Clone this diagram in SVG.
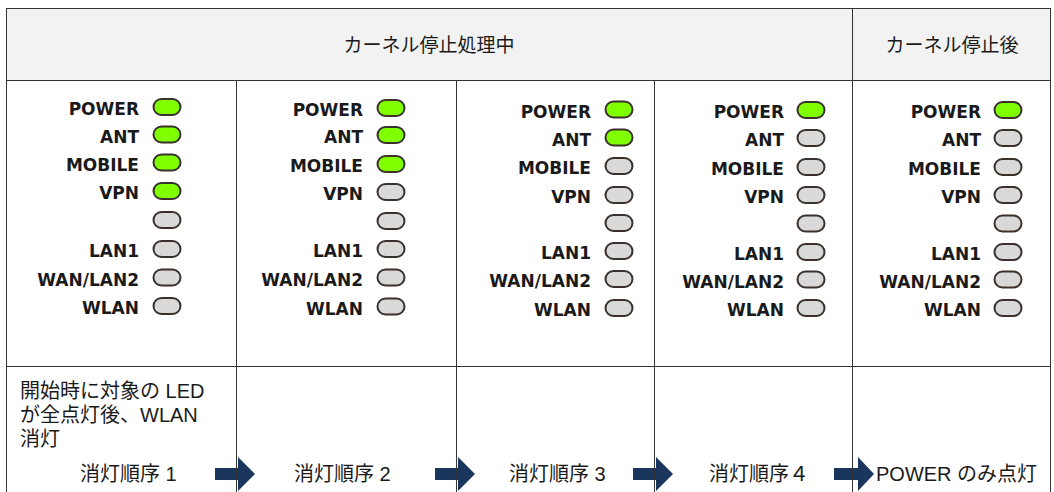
<svg xmlns="http://www.w3.org/2000/svg" width="1054" height="492" viewBox="0 0 1054 492">
<style>
.lbl{font-family:"DejaVu Sans",Verdana,sans-serif;font-weight:bold;font-size:17px;fill:#1a1a1a;text-anchor:end}
.on{fill:#80ff00;stroke:#3a302c;stroke-width:2}
.off{fill:#d9d9d9;stroke:#3a302c;stroke-width:2}
.jp{font-family:"Liberation Sans","Noto Sans CJK JP",sans-serif;font-size:20px;fill:#1a1a1a}
.hd{font-family:"Noto Sans CJK JP","Liberation Sans",sans-serif;font-size:19px;fill:#1a1a1a;text-anchor:middle}
.ln{stroke:#333;stroke-width:1;fill:none}
.arrow{fill:#1b365d}
</style>
<defs>
<rect id="led" x="-13.5" y="-8" width="27" height="16" rx="8" ry="8"/>
</defs>
<rect x="6" y="8" width="1045" height="72" fill="#f2f2f2"/>
<rect x="6" y="80" width="1045" height="412" fill="#ffffff"/>
<g id="header">
<text class="hd" x="429" y="52">カーネル停止処理中</text>
<text class="hd" x="952" y="52">カーネル停止後</text>
</g>
<g id="connectors">
<polygon class="arrow" points="215,468 238,468 238,457 255,474 238,491 238,480 215,480"/>
<polygon class="arrow" points="435,468 458,468 458,457 475,474 458,491 458,480 435,480"/>
<polygon class="arrow" points="633,468 656,468 656,457 673,474 656,491 656,480 633,480"/>
<polygon class="arrow" points="834,468 858,468 858,457 874,474 858,491 858,480 834,480"/>
</g>
<g id="grid">
<line class="ln" x1="6" y1="8.5" x2="1051" y2="8.5" stroke-width="1.5" stroke="#555"/>
<line class="ln" x1="6" y1="80.5" x2="1051" y2="80.5" stroke-width="1.5" stroke="#555"/>
<line class="ln" x1="6" y1="366.5" x2="1051" y2="366.5"/>
<line class="ln" x1="6.5" y1="8" x2="6.5" y2="492"/>
<line class="ln" x1="1050.5" y1="8" x2="1050.5" y2="492"/>
<line class="ln" x1="236.5" y1="80" x2="236.5" y2="492"/>
<line class="ln" x1="456.5" y1="80" x2="456.5" y2="492"/>
<line class="ln" x1="654.5" y1="80" x2="654.5" y2="492"/>
<line class="ln" x1="852.5" y1="8" x2="852.5" y2="492"/>
</g>
<g id="step1">
<text class="lbl" x="139" y="115">POWER</text><use href="#led" class="on" x="167" y="107"/>
<text class="lbl" x="139" y="142.5">ANT</text><use href="#led" class="on" x="167" y="134.5"/>
<text class="lbl" x="139" y="170.5">MOBILE</text><use href="#led" class="on" x="167" y="162.5"/>
<text class="lbl" x="139" y="199">VPN</text><use href="#led" class="on" x="167" y="191"/>
<use href="#led" class="off" x="167" y="220"/>
<text class="lbl" x="139" y="257">LAN1</text><use href="#led" class="off" x="167" y="249"/>
<text class="lbl" x="139" y="285.5">WAN/LAN2</text><use href="#led" class="off" x="167" y="277.5"/>
<text class="lbl" x="139" y="314">WLAN</text><use href="#led" class="off" x="167" y="306"/>
<text class="jp" x="20" y="398">開始時に対象の LED</text>
<text class="jp" x="20" y="422">が全点灯後、WLAN</text>
<text class="jp" x="20" y="446">消灯</text>
<text class="jp" x="80" y="481">消灯順序 1</text>
</g>
<g id="step2">
<text class="lbl" x="363" y="116">POWER</text><use href="#led" class="on" x="391" y="108"/>
<text class="lbl" x="363" y="143">ANT</text><use href="#led" class="on" x="391" y="135"/>
<text class="lbl" x="363" y="172">MOBILE</text><use href="#led" class="on" x="391" y="164"/>
<text class="lbl" x="363" y="200">VPN</text><use href="#led" class="off" x="391" y="192"/>
<use href="#led" class="off" x="391" y="221"/>
<text class="lbl" x="363" y="257">LAN1</text><use href="#led" class="off" x="391" y="249"/>
<text class="lbl" x="363" y="285.5">WAN/LAN2</text><use href="#led" class="off" x="391" y="277.5"/>
<text class="lbl" x="363" y="314.5">WLAN</text><use href="#led" class="off" x="391" y="306.5"/>
<text class="jp" x="294" y="481">消灯順序 2</text>
</g>
<g id="step3">
<text class="lbl" x="591" y="117.5">POWER</text><use href="#led" class="on" x="619" y="109.5"/>
<text class="lbl" x="591" y="145.5">ANT</text><use href="#led" class="on" x="619" y="137.5"/>
<text class="lbl" x="591" y="174">MOBILE</text><use href="#led" class="off" x="619" y="166"/>
<text class="lbl" x="591" y="203">VPN</text><use href="#led" class="off" x="619" y="195"/>
<use href="#led" class="off" x="619" y="223"/>
<text class="lbl" x="591" y="259">LAN1</text><use href="#led" class="off" x="619" y="251"/>
<text class="lbl" x="591" y="287">WAN/LAN2</text><use href="#led" class="off" x="619" y="279"/>
<text class="lbl" x="591" y="316">WLAN</text><use href="#led" class="off" x="619" y="308"/>
<text class="jp" x="509" y="481">消灯順序 3</text>
</g>
<g id="step4">
<text class="lbl" x="784" y="118">POWER</text><use href="#led" class="on" x="811" y="110"/>
<text class="lbl" x="784" y="146">ANT</text><use href="#led" class="off" x="811" y="138"/>
<text class="lbl" x="784" y="175">MOBILE</text><use href="#led" class="off" x="811" y="167"/>
<text class="lbl" x="784" y="203">VPN</text><use href="#led" class="off" x="811" y="195"/>
<use href="#led" class="off" x="811" y="223.5"/>
<text class="lbl" x="784" y="260">LAN1</text><use href="#led" class="off" x="811" y="252"/>
<text class="lbl" x="784" y="287.5">WAN/LAN2</text><use href="#led" class="off" x="811" y="279.5"/>
<text class="lbl" x="784" y="316">WLAN</text><use href="#led" class="off" x="811" y="308"/>
<text class="jp" x="709" y="481">消灯順序４</text>
</g>
<g id="after">
<text class="lbl" x="981" y="118">POWER</text><use href="#led" class="on" x="1008" y="110"/>
<text class="lbl" x="981" y="146">ANT</text><use href="#led" class="off" x="1008" y="138"/>
<text class="lbl" x="981" y="175">MOBILE</text><use href="#led" class="off" x="1008" y="167"/>
<text class="lbl" x="981" y="203">VPN</text><use href="#led" class="off" x="1008" y="195"/>
<use href="#led" class="off" x="1008" y="223.5"/>
<text class="lbl" x="981" y="260">LAN1</text><use href="#led" class="off" x="1008" y="252"/>
<text class="lbl" x="981" y="287.5">WAN/LAN2</text><use href="#led" class="off" x="1008" y="279.5"/>
<text class="lbl" x="981" y="316">WLAN</text><use href="#led" class="off" x="1008" y="308"/>
<text class="jp" x="876" y="481">POWER のみ点灯</text>
</g>
</svg>
